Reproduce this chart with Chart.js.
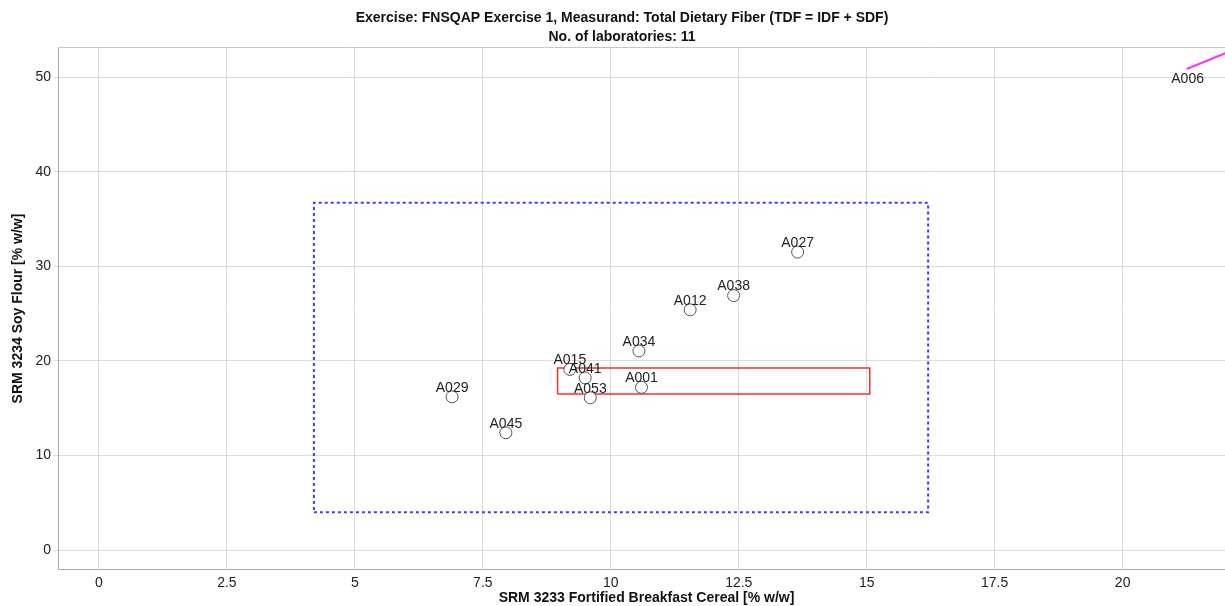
<!DOCTYPE html>
<html>
<head>
<meta charset="utf-8">
<script src="https://cdn.jsdelivr.net/npm/chart.js@4.4.1/dist/chart.umd.min.js"></script>
<style>
  html, body { margin: 0; padding: 0; background: #fff; overflow: hidden; }
  #wrap { width: 1225px; height: 606px; overflow: hidden; }
</style>
</head>
<body>
<div id="wrap"><canvas id="chart" width="1232" height="606"></canvas></div>
<script>
// lab results: cereal (x) vs soy flour (y), % w/w
const labCodes     = ['A001', 'A012', 'A015', 'A027', 'A029', 'A034', 'A038', 'A041', 'A045', 'A053'];
const cerealValues = [10.6, 11.55, 9.2, 13.65, 6.9, 10.55, 12.4, 9.5, 7.95, 9.6];
const soyValues    = [17.2, 25.4, 19.1, 31.5, 16.2, 21.05, 26.9, 18.2, 12.4, 16.1];

// lab outside the plotted range, shown by a line pointing off the chart
const outlierCode = 'A006';
const outlierLineX = [21.25, 23.0];
const outlierLineY = [50.85, 54.7];

// consensus range (blue dotted) and reference range (red)
const targetRangeX = [4.2, 16.2];
const targetRangeY = [4.0, 36.7];
const refRangeX = [8.96, 15.06];
const refRangeY = [16.5, 19.25];

const xTicks = [0, 2.5, 5, 7.5, 10, 12.5, 15, 17.5, 20];
const yTicks = [0, 10, 20, 30, 40, 50];

const titleLines = [
  'Exercise: FNSQAP Exercise 1, Measurand: Total Dietary Fiber (TDF = IDF + SDF)',
  'No. of laboratories: 11'
];
const xTitle = 'SRM 3233 Fortified Breakfast Cereal [% w/w]';
const yTitle = 'SRM 3234 Soy Flour [% w/w]';

function boxPath(xs, ys) {
  return [
    { x: xs[0], y: ys[0] }, { x: xs[1], y: ys[0] },
    { x: xs[1], y: ys[1] }, { x: xs[0], y: ys[1] },
    { x: xs[0], y: ys[0] }
  ];
}

const labPoints = labCodes.map((c, i) => ({ x: cerealValues[i], y: soyValues[i], code: c }));
const outlierPoints = outlierLineX.map((x, i) => ({ x: x, y: outlierLineY[i] }));

const FONT = "'Liberation Sans', Arial, sans-serif";

const extraText = {
  id: 'extraText',
  afterDraw(chart) {
    const ctx = chart.ctx;
    const area = chart.chartArea;
    ctx.save();

    // top frame line
    ctx.strokeStyle = '#c8c8c8';
    ctx.lineWidth = 1;
    ctx.beginPath();
    ctx.moveTo(area.left, area.top - 0.5);
    ctx.lineTo(area.right, area.top - 0.5);
    ctx.stroke();

    // point labels
    const meta = chart.getDatasetMeta(0);
    ctx.font = '14px ' + FONT;
    ctx.fillStyle = '#222';
    ctx.textAlign = 'center';
    ctx.textBaseline = 'bottom';
    meta.data.forEach((pt, i) => {
      ctx.fillText(labCodes[i], pt.x, pt.y - 2);
    });

    // outlier label under the start of its line
    const om = chart.getDatasetMeta(3);
    const p0 = om.data[0];
    ctx.textBaseline = 'top';
    ctx.fillText(outlierCode, p0.x + 1, p0.y + 3);

    // titles
    ctx.font = 'bold 14px ' + FONT;
    ctx.fillStyle = '#111';
    ctx.textBaseline = 'middle';
    ctx.fillText(titleLines[0], 622, 18);
    ctx.fillText(titleLines[1], 622, 37);
    ctx.fillText(xTitle, (area.left + area.right) / 2 + 5, 598);
    ctx.restore();
  }
};

new Chart(document.getElementById('chart'), {
  type: 'scatter',
  data: {
    datasets: [
      {
        label: 'Labs',
        data: labPoints,
        pointRadius: 6,
        pointHoverRadius: 6,
        pointBackgroundColor: '#fff',
        pointBorderColor: '#555',
        pointBorderWidth: 1,
        showLine: false,
        order: 0
      },
      {
        label: 'Target range',
        data: boxPath(targetRangeX, targetRangeY),
        showLine: true,
        pointRadius: 0,
        borderColor: '#3b3bff',
        borderWidth: 2,
        borderDash: [3, 3],
        fill: false,
        order: 2
      },
      {
        label: 'Reference range',
        data: boxPath(refRangeX, refRangeY),
        showLine: true,
        pointRadius: 0,
        borderColor: '#f03030',
        borderWidth: 1.5,
        fill: false,
        order: 1
      },
      {
        label: outlierCode,
        data: outlierPoints,
        showLine: true,
        pointRadius: 0,
        borderColor: '#ff33ff',
        borderWidth: 2,
        fill: false,
        order: 1
      }
    ]
  },
  options: {
    responsive: false,
    animation: false,
    devicePixelRatio: 1,
    layout: { padding: { top: 48, right: 0, left: 0, bottom: 0 } },
    plugins: {
      legend: { display: false },
      tooltip: { enabled: false },
      title: { display: false }
    },
    scales: {
      x: {
        type: 'linear',
        min: -0.8,
        max: 22,
        afterBuildTicks: (s) => { s.ticks = xTicks.map(v => ({ value: v })); },
        afterFit: (s) => { s.height = 37; },
        grid: { color: '#dcdcdc', drawTicks: false },
        border: { color: '#aaa' },
        ticks: {
          padding: 6,
          color: '#222',
          font: { family: FONT, size: 14 },
          callback: (v) => String(v)
        }
      },
      y: {
        type: 'linear',
        min: -2,
        max: 53.07,
        afterBuildTicks: (s) => { s.ticks = yTicks.map(v => ({ value: v })); },
        afterFit: (s) => { s.width = 58; },
        grid: { color: '#dcdcdc', tickLength: 4 },
        border: { color: '#aaa' },
        ticks: {
          padding: 3,
          color: '#222',
          font: { family: FONT, size: 14 }
        },
        title: {
          display: true,
          text: yTitle,
          color: '#111',
          font: { family: FONT, size: 14, weight: 'bold' },
          padding: { top: 10, bottom: 0 }
        }
      }
    }
  },
  plugins: [extraText]
});
</script>
</body>
</html>
